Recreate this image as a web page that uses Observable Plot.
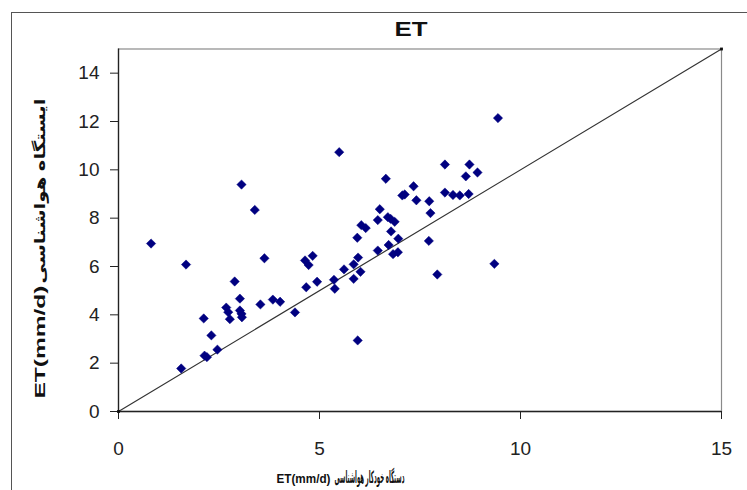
<!DOCTYPE html>
<html><head><meta charset="utf-8">
<script src="https://cdn.jsdelivr.net/npm/d3@7"></script>
<script src="https://cdn.jsdelivr.net/npm/@observablehq/plot@0.6"></script>
<style>
body{margin:0;background:#fff;}
#wrap{position:relative;width:747px;height:490px;overflow:hidden;background:#fff}
#border{position:absolute;left:11px;top:12px;width:800px;height:600px;border-left:1.5px solid #555;border-top:1.5px solid #555;}
#wrap svg{position:absolute;left:0;top:0}
</style></head><body><div id="wrap"><div id="border"></div></div>
<script>
// ET from automatic weather device (x) vs. weather station (y), mm/d
const autoET = [0.81,1.68,1.56,2.12,2.14,2.20,2.31,2.46,2.68,2.73,2.77,2.89,3.02,3.02,3.06,3.07,3.06,3.39,3.53,3.63,
  3.84,4.02,4.39,4.64,4.73,4.83,4.67,4.94,5.36,5.38,5.49,5.61,5.85,5.96,5.85,6.02,5.95,5.94,6.04,6.15,
  6.45,6.50,6.45,6.65,6.70,6.77,6.87,6.78,6.96,6.72,6.83,6.95,7.06,7.12,7.34,7.41,7.73,7.76,7.72,7.93,
  8.12,8.12,8.32,8.49,8.71,8.64,8.93,8.73,9.44,9.35];
const stationET = [6.95,6.08,1.78,3.85,2.31,2.25,3.15,2.56,4.30,4.11,3.82,5.38,4.67,4.18,4.04,3.90,9.39,8.34,4.43,6.34,
  4.63,4.54,4.10,6.25,6.06,6.44,5.14,5.37,5.45,5.08,10.73,5.88,6.09,6.37,5.49,5.78,2.94,7.19,7.71,7.59,
  7.92,8.37,6.66,9.63,8.04,7.97,7.85,7.45,7.15,6.89,6.51,6.59,8.94,8.98,9.32,8.74,8.70,8.21,7.06,5.67,
  10.22,9.06,8.96,8.94,9.00,9.73,9.89,10.22,12.14,6.11];
const lineX = [0, 15];
const lineY = [0, 15];
const xTicks = [0, 5, 10, 15];
const yTicks = [0, 2, 4, 6, 8, 10, 12, 14];
const titleText = "ET";
const unitText = "ET(mm/d)";
const xLabelFa = "دستگاه خودکار هواشناسی";
const yLabelFa = "ایستگاه هواشناسی";

const pts = autoET.map((x, i) => ({x, y: stationET[i]}));
const ln = lineX.map((x, i) => ({x, y: lineY[i]}));
const font = "'Liberation Sans', Arial, 'DejaVu Sans', sans-serif";
const lab = {fontWeight: "bold", fill: "#111", lineAnchor: "middle", textAnchor: "start"};

const chart = Plot.plot({
  width: 747, height: 490,
  marginLeft: 118, marginRight: 26, marginTop: 48.5, marginBottom: 79,
  style: {fontFamily: font, background: "transparent", overflow: "visible"},
  x: {domain: [0, 15], label: null},
  y: {domain: [0, 15], label: null},
  marks: [
    Plot.frame({stroke: "#8a8a8a", strokeWidth: 1.2}),
    Plot.axisX({ticks: xTicks, tickFormat: d => d, tickSize: 8, tickPadding: 22, fontSize: 19, stroke: "#222", color: "#222", label: null}),
    Plot.axisY({ticks: yTicks, tickFormat: d => d, tickSize: 8, tickPadding: 11, fontSize: 19, stroke: "#222", color: "#222", label: null}),
    Plot.ruleX([0], {stroke: "#222", strokeWidth: 1.3}),
    Plot.ruleY([0], {stroke: "#222", strokeWidth: 1.3}),
    Plot.line(ln, {x: "x", y: "y", stroke: "#333", strokeWidth: 1.2}),
    Plot.dot(ln, {x: "x", y: "y", symbol: "square", r: 1.6, fill: "#111"}),
    Plot.dot(pts, {x: "x", y: "y", symbol: "diamond2", r: 4.2, fill: "#000080", stroke: "#000080", strokeWidth: 0.5}),
    Plot.text([titleText], {...lab, frameAnchor: "top-left", dx: 276, dy: -19, fontSize: 20, className: "ttl"}),
    Plot.text([unitText], {...lab, frameAnchor: "bottom-left", dx: 158, dy: 68, fontSize: 12, className: "xlab1"}),
    Plot.text([xLabelFa], {...lab, frameAnchor: "bottom-left", dx: 216, dy: 66, fontSize: 17, className: "xlab2"}),
    Plot.text([unitText], {...lab, frameAnchor: "bottom-left", rotate: -90, dx: -78, dy: -13, fontSize: 15, className: "ylab1"}),
    Plot.text([yLabelFa], {...lab, frameAnchor: "bottom-left", rotate: -90, dx: -78, dy: -128, fontSize: 15, className: "ylab2"})
  ]
});
document.getElementById("wrap").appendChild(chart);
const fit = (cls, len) => d3.select(chart).selectAll("." + cls + " text").attr("textLength", len).attr("lengthAdjust", "spacingAndGlyphs");
fit("ttl", 33);
fit("xlab1", 54);
fit("xlab2", 70);
fit("ylab1", 113);
fit("ylab2", 185);
</script></body></html>
